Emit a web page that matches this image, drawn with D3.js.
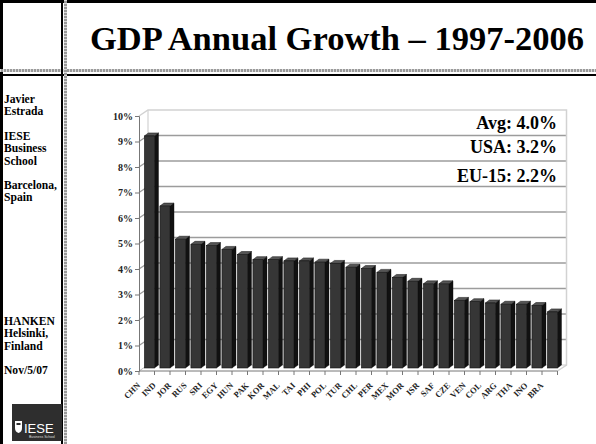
<!DOCTYPE html>
<html>
<head>
<meta charset="utf-8">
<script src="https://cdn.jsdelivr.net/npm/d3@7"></script>
<style>
  body { margin: 0; background: #fff; }
  svg { display: block; }
  text { font-family: "Liberation Serif", "Times New Roman", serif; font-weight: bold; }
</style>
</head>
<body>
<div id="slide"></div>
<script>
// data
const countries = ["CHN", "IND", "JOR", "RUS", "SRI", "EGY", "HUN", "PAK", "KOR", "MAL", "TAI", "PHI", "POL", "TUR",
  "CHL", "PER", "MEX", "MOR", "ISR", "SAF", "CZE", "VEN", "COL", "ARG", "THA", "INO", "BRA"];
const growth = [9.1, 6.35, 5.05, 4.85, 4.8, 4.65, 4.45, 4.25, 4.25, 4.2, 4.2, 4.15, 4.1, 3.95,
  3.9, 3.75, 3.55, 3.4, 3.3, 3.3, 2.65, 2.6, 2.55, 2.5, 2.5, 2.45, 2.2];
const yTicks = [0, 1, 2, 3, 4, 5, 6, 7, 8, 9, 10];
const notes = ["Avg: 4.0%", "USA: 3.2%", "EU-15: 2.2%"];
const sideLines = ["Javier", "Estrada", "", "IESE", "Business", "School", "", "Barcelona,", "Spain"];
const sideLines2 = ["HANKEN", "Helsinki,", "Finland", "", "Nov/5/07"];

const W = 596, H = 444;
const svg = d3.select("#slide").append("svg").attr("width", W).attr("height", H);

// ---- slide frame ----
function dotted(x1, y1, x2, y2) {
  svg.append("line").attr("x1", x1).attr("y1", y1).attr("x2", x2).attr("y2", y2)
    .attr("stroke", "#9a9a9a").attr("stroke-width", 3);
  svg.append("line").attr("x1", x1).attr("y1", y1).attr("x2", x2).attr("y2", y2)
    .attr("stroke", "#d8d8d8").attr("stroke-width", 3).attr("stroke-dasharray", "1 2");
}
svg.append("rect").attr("x", 0).attr("y", 0).attr("width", W).attr("height", 3).attr("fill", "#000");
svg.append("rect").attr("x", 0).attr("y", 0).attr("width", 3).attr("height", H).attr("fill", "#000");
dotted(0, 70.5, W, 70.5);
svg.append("rect").attr("x", 0).attr("y", 74).attr("width", W).attr("height", 2).attr("fill", "#000");
svg.append("rect").attr("x", 61).attr("y", 0).attr("width", 2).attr("height", H).attr("fill", "#000");
dotted(65.5, 0, 65.5, H);

// title
svg.append("text").attr("x", 337).attr("y", 50).attr("text-anchor", "middle")
  .attr("font-size", 34.5).text("GDP Annual Growth \u2013 1997-2006");

// left column
svg.selectAll("text.side1").data(sideLines).enter().append("text")
  .attr("class", "side1").attr("x", 4).attr("y", (d, i) => 103 + i * 12.3)
  .attr("font-size", 11.6).text(d => d);
svg.selectAll("text.side2").data(sideLines2).enter().append("text")
  .attr("class", "side2").attr("x", 4).attr("y", (d, i) => 325 + i * 12.3)
  .attr("font-size", 11.6).text(d => d);

// logo
const logo = svg.append("g").attr("transform", "translate(12,404)");
logo.append("rect").attr("width", 50).attr("height", 37).attr("fill", "#2e2e2e");
logo.append("path").attr("d", "M3,17 h7 v7 q0,4 -3.5,5 q-3.5,-1 -3.5,-5 z").attr("fill", "#fff");
logo.append("rect").attr("x", 4.5).attr("y", 19).attr("width", 4).attr("height", 2).attr("fill", "#2e2e2e");
logo.append("text").attr("x", 12).attr("y", 29).attr("font-size", 13).attr("fill", "#fff")
  .style("font-family", "'Liberation Sans', sans-serif").style("font-weight", "normal").text("IESE");
logo.append("text").attr("x", 17).attr("y", 34).attr("font-size", 3.5).attr("fill", "#ddd")
  .style("font-family", "'Liberation Sans', sans-serif").style("font-weight", "normal").text("Business School");

// ---- 3D column chart ----
const dx = 9, dy = -6;            // wall depth
const bdx = 2.7, bdy = -3;        // bar placement inside depth
const sdx = 4, sdy = -3;          // bar thickness
const y = d3.scaleLinear().domain([0, 10]).range([371, 116]);
const x = d3.scaleBand().domain(countries).range([139, 557.5]).paddingInner(0.35).paddingOuter(0.175);
const step = x.step();
const x0 = x.range()[0], x1 = x.range()[1];

const chart = svg.append("g");

// back wall gridlines
chart.selectAll("line.grid").data(yTicks.slice(1, 10)).enter().append("line")
  .attr("x1", x0 + dx).attr("x2", x1 + dx)
  .attr("y1", d => y(d) + dy).attr("y2", d => y(d) + dy)
  .attr("stroke", "#9c9c9c").attr("stroke-width", 1.3);
// side wall gridlines
chart.selectAll("line.sgrid").data(yTicks.slice(1, 10)).enter().append("line")
  .attr("x1", x0).attr("x2", x0 + dx)
  .attr("y1", d => y(d)).attr("y2", d => y(d) + dy)
  .attr("stroke", "#9c9c9c").attr("stroke-width", 1.3);
// wall edges
chart.append("path")
  .attr("d", `M${x0},${y(10)} L${x0 + dx},${y(10) + dy} L${x1 + dx},${y(10) + dy} L${x1 + dx},${y(0) + dy} L${x1},${y(0)}`)
  .attr("fill", "none").attr("stroke", "#d2d2d2").attr("stroke-width", 1.5);
chart.append("line").attr("x1", x0 + dx).attr("x2", x0 + dx).attr("y1", y(10) + dy).attr("y2", y(0) + dy)
  .attr("stroke", "#d2d2d2").attr("stroke-width", 1.2);
chart.append("line").attr("x1", x0).attr("x2", x0 + dx).attr("y1", y(0)).attr("y2", y(0) + dy)
  .attr("stroke", "#bbb").attr("stroke-width", 1);
chart.append("line").attr("x1", x0 + dx).attr("x2", x1 + dx).attr("y1", y(0) + dy).attr("y2", y(0) + dy)
  .attr("stroke", "#ccc").attr("stroke-width", 1);

// annotations on the wall
chart.selectAll("text.note").data(notes).enter().append("text")
  .attr("class", "note").attr("x", 557).attr("y", (d, i) => [128.5, 152.5, 181.5][i])
  .attr("text-anchor", "end").attr("font-size", 18).text(d => d);

// bars
const bw = x.bandwidth();
const bars = chart.selectAll("g.bar").data(countries).enter().append("g").attr("class", "bar");
bars.append("path").attr("fill", "#111").attr("stroke", "#000").attr("stroke-width", 0.4)
  .attr("d", (c, i) => {
    const l = x(c) + bdx + bw, t = y(growth[i]) + bdy, b = y(0) + bdy;
    return `M${l},${t} L${l + sdx},${t + sdy} L${l + sdx},${b + sdy} L${l},${b} Z`;
  });
bars.append("path").attr("fill", "#555").attr("stroke", "#111").attr("stroke-width", 0.5)
  .attr("d", (c, i) => {
    const l = x(c) + bdx, t = y(growth[i]) + bdy;
    return `M${l},${t} L${l + bw},${t} L${l + bw + sdx},${t + sdy} L${l + sdx},${t + sdy} Z`;
  });
bars.append("rect").attr("fill", "#363636").attr("stroke", "#151515").attr("stroke-width", 0.6)
  .attr("x", c => x(c) + bdx).attr("width", bw)
  .attr("y", (c, i) => y(growth[i]) + bdy)
  .attr("height", (c, i) => y(0) - y(growth[i]));

// y axis (front edge)
const yAxis = chart.append("g").attr("transform", `translate(${x0},0)`)
  .call(d3.axisLeft(y).tickValues(yTicks).tickFormat(d => d + "%").tickSize(4).tickPadding(2));
yAxis.select(".domain").attr("stroke", "#777");
yAxis.selectAll(".tick line").attr("stroke", "#777");
yAxis.selectAll("text").attr("font-size", 10).attr("font-family", "Liberation Serif").attr("font-weight", "bold").attr("fill", "#222");

// x axis (front edge of floor)
chart.append("line").attr("x1", x0).attr("x2", x1).attr("y1", y(0)).attr("y2", y(0))
  .attr("stroke", "#777").attr("stroke-width", 1);
const bounds = countries.map(c => x(c) - step * 0.175).concat([x1]);
chart.selectAll("line.xt").data(bounds).enter().append("line")
  .attr("x1", d => d).attr("x2", d => d).attr("y1", y(0)).attr("y2", y(0) + 4)
  .attr("stroke", "#777");
chart.selectAll("text.xl").data(countries).enter().append("text")
  .attr("class", "xl")
  .attr("transform", c => `translate(${x(c) + bw / 2 - 6},386) rotate(-45)`)
  .attr("text-anchor", "end").attr("font-size", 8.5).attr("fill", "#222").text(c => c);
</script>
</body>
</html>
